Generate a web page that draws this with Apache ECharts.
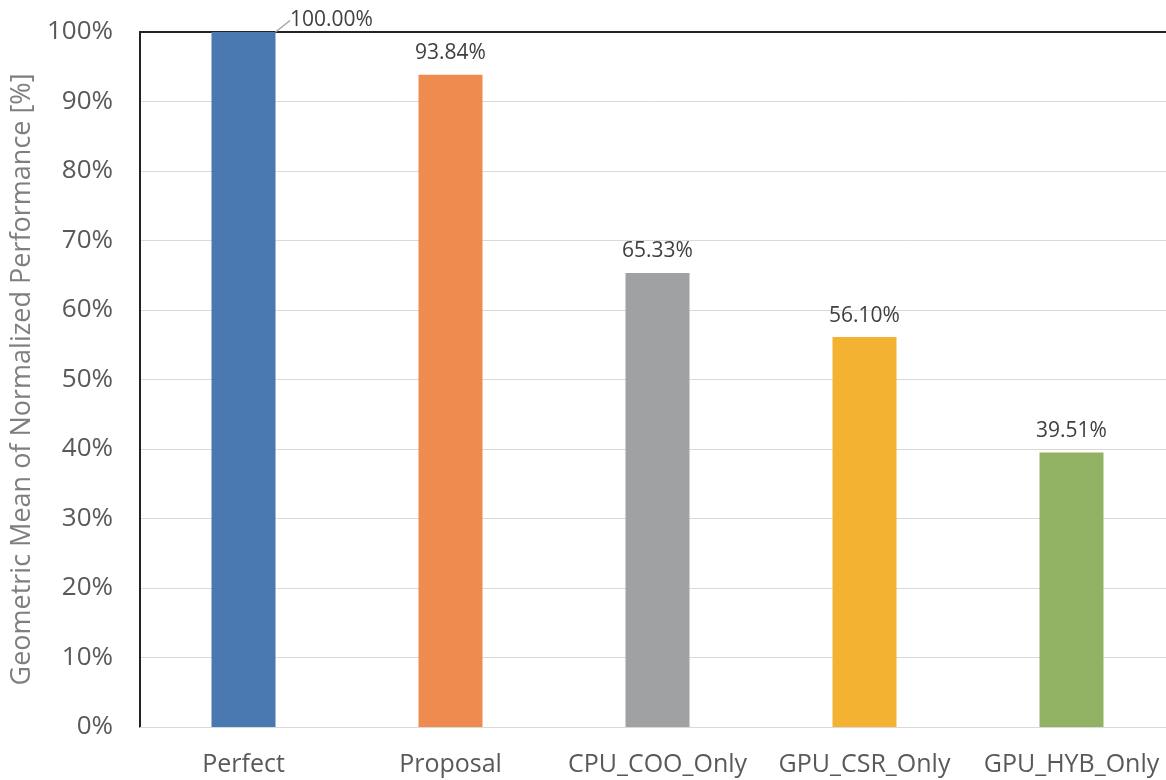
<!DOCTYPE html>
<html>
<head>
<meta charset="utf-8">
<script src="https://cdn.jsdelivr.net/npm/echarts@6/dist/echarts.min.js"></script>
<style>
  html, body { margin: 0; padding: 0; background: #fff; }
  #chart { width: 1166px; height: 780px; }
</style>
</head>
<body>
<div id="chart"></div>
<script>
// data
const categories = ['Perfect', 'Proposal', 'CPU_COO_Only', 'GPU_CSR_Only', 'GPU_HYB_Only'];
const values = [100.00, 93.84, 65.33, 56.10, 39.51];
const barColors = ['#4a78b0', '#ef8b4f', '#a0a1a3', '#f4b233', '#91b263'];
const yTicks = { min: 0, max: 100, interval: 10 };

const chart = echarts.init(document.getElementById('chart'));
const font = '"Open Sans", "Noto Sans", sans-serif';

chart.setOption({
  animation: false,
  // the plot runs a little past the right edge of the picture
  grid: { left: 140, width: 1035, top: 32, bottom: 53, outerBoundsMode: 'none', containLabel: false },
  xAxis: [
    {
      type: 'category',
      data: categories,
      axisLine: { show: true, lineStyle: { color: '#d9d9d9', width: 1 } },
      axisTick: { show: false },
      axisLabel: { color: '#595959', fontSize: 25, fontFamily: font, margin: 25, interval: 0 }
    },
    {
      // dark line across the top of the plot
      type: 'category',
      position: 'top',
      data: categories,
      axisLine: { show: true, lineStyle: { color: '#222', width: 2 } },
      axisTick: { show: false },
      axisLabel: { show: false }
    }
  ],
  yAxis: {
    type: 'value',
    min: yTicks.min,
    max: yTicks.max,
    interval: yTicks.interval,
    name: 'Geometric Mean of Normalized Performance [%]',
    nameLocation: 'middle',
    nameGap: 84,
    nameTextStyle: { color: '#7f7f7f', fontSize: 27, fontFamily: font },
    axisLine: { show: true, lineStyle: { color: '#222', width: 2 } },
    axisTick: { show: false },
    axisLabel: { color: '#595959', fontSize: 26, fontFamily: font, margin: 27, formatter: '{value}%' },
    splitLine: { lineStyle: { color: '#d9d9d9', width: 1 } }
  },
  series: [{
    type: 'bar',
    barWidth: 64,
    data: values.map((v, i) => ({
      value: v,
      itemStyle: { color: barColors[i] },
      labelLine: { show: i === 0, lineStyle: { color: '#a6a6a6', width: 1.5 } }
    })),
    label: {
      show: true,
      position: 'top',
      distance: 11,
      color: '#404040',
      fontSize: 21,
      fontFamily: font,
      formatter: p => p.value.toFixed(2) + '%'
    },
    labelLayout: p => p.dataIndex === 0 ? { dx: 88, dy: 10 } : {}
  }]
});
</script>
</body>
</html>
